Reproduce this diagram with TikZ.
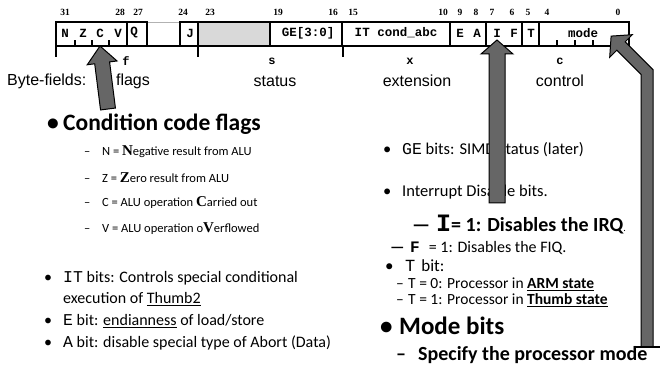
\documentclass[tikz,border=0pt]{standalone}
\usepackage{fontspec}
\setmainfont{Carlito}
\newfontfamily\arialfont{Liberation Sans}
\newfontfamily\courfont{Liberation Mono}
\newfontfamily\timesfont{Liberation Serif}
\usetikzlibrary{calc}

\definecolor{arrowgray}{RGB}{102,102,102}
\definecolor{regshade}{RGB}{217,217,217}

\tikzset{
  regbox/.style={draw, line width=1.6pt},
  bitnum/.style={font=\timesfont\bfseries\fontsize{9.5}{10}\selectfont, inner sep=0pt},
  regtxt/.style={font=\courfont\bfseries\fontsize{12.5}{13}\selectfont, inner sep=0pt},
  fieldtxt/.style={font=\courfont\bfseries\fontsize{12}{13}\selectfont, inner sep=0pt},
  bytetxt/.style={font=\arialfont\fontsize{16}{18}\selectfont, inner sep=0pt},
  item/.style={anchor=west, inner sep=0pt},
  blockarrow/.style={draw=black, line width=1pt, fill=arrowgray, line join=miter},
}
\newcommand{\hl}[1]{{\timesfont\bfseries\fontsize{15}{15}\selectfont #1}}

\begin{document}
\begin{tikzpicture}[x=1pt,y=-1pt]
  \useasboundingbox (0,0) rectangle (663,371);
  %register
  \fill[regshade] (198,22) rectangle (270,46);
  \draw[gray!60, line width=0.6pt] (147,22) -- (180,22);
  \foreach \l/\r in {56/127,127/147,180/198,198/270,270/342,342/450,450/486,486/522,522/539,539/629}
    \draw[regbox] (\l,22) rectangle (\r,46);
  \draw[regbox] (56,46) -- (629,46);
  \foreach \x in {56,198,343}
    \draw[regbox] (\x,45) -- (\x,57);
  \foreach \x in {75,92,109,557,575,593}
    \draw[line width=1.6pt] (\x,46) -- (\x,40);
  %bit numbers
  \foreach \x/\n in {65/31,120/28,138/27,183/24,210/23,278/19,333/16,353/15,443/10,460/9,476/8,492/7,512/6,528/5,547/4,618/0}
    \node[bitnum] (bit\n) at (\x,12) {\n};
  %bits
  \node[regtxt] (N) at (65,33) {N};
  \node[regtxt] (Z) at (83,33) {Z};
  \node[regtxt] (C) at (100,33) {C};
  \node[regtxt] (V) at (118,33) {V};
  \node[regtxt] (Q) at (134,33) {Q};
  \node[regtxt] (J) at (190,33) {J};
  \node[regtxt] (GE) at (308,33) {GE[3:0]};
  \node[regtxt] (IT) at (396,33) {IT cond\_abc};
  \node[regtxt] (E) at (460,33) {E};
  \node[regtxt] (A) at (477,33) {A};
  \node[regtxt] (I) at (497,33) {I};
  \node[regtxt] (F) at (514,33) {F};
  \node[regtxt] (T) at (531,33) {T};
  \node[regtxt] (mode) at (583,33) {mode};
  %fields
  \node[fieldtxt] (f) at (126,61) {f};
  \node[fieldtxt] (s) at (272,61) {s};
  \node[fieldtxt] (x) at (410,61) {x};
  \node[fieldtxt] (c) at (560,61) {c};
  \node[bytetxt, anchor=west] (bytefields) at (7,81) {Byte-fields:};
  \node[bytetxt] (flagsname) at (133,81) {flags};
  \node[bytetxt] (statusname) at (275,81) {status};
  \node[bytetxt] (extname) at (417,81) {extension};
  \node[bytetxt] (ctrlname) at (560,81) {control};
  %left column
  \node[item, font=\bfseries\fontsize{23.5}{26}\selectfont] (ccf) at (47,124) {\makebox[16pt][l]{•}Condition code flags};
  \node[item, font=\fontsize{12.5}{14}\selectfont] (nflag) at (84,152) {\makebox[18pt][l]{–}N = \hl{N}egative result from ALU};
  \node[item, font=\fontsize{12.5}{14}\selectfont] (zflag) at (84,178) {\makebox[18pt][l]{–}Z = \hl{Z}ero result from ALU};
  \node[item, font=\fontsize{12.5}{14}\selectfont] (cflag) at (84,203) {\makebox[18pt][l]{–}C = ALU operation \hl{C}arried out};
  \node[item, font=\fontsize{12.5}{14}\selectfont] (vflag) at (84,229) {\makebox[18pt][l]{–}V = ALU operation o\hl{V}erflowed};
  \node[item, font=\fontsize{16}{18}\selectfont] (itbits) at (44,278) {\makebox[19pt][l]{•}{\courfont\fontsize{16.5}{18}\selectfont IT} bits: Controls special conditional};
  \node[item, font=\fontsize{16}{18}\selectfont] (itbits2) at (63,299) {execution of \underline{Thumb2}};
  \node[item, font=\fontsize{16}{18}\selectfont] (ebit) at (44,321) {\makebox[19pt][l]{•}{\courfont\fontsize{16.5}{18}\selectfont E} bit: \underline{endianness} of load/store};
  \node[item, font=\fontsize{16}{18}\selectfont] (abit) at (44,343) {\makebox[19pt][l]{•}{\courfont\fontsize{16.5}{18}\selectfont A} bit: disable special type of Abort (Data)};
  %right column
  \node[item, font=\fontsize{16.5}{18}\selectfont] (gebits) at (383,150) {\makebox[19pt][l]{•}{\courfont\fontsize{16.5}{18}\selectfont GE} bits: SIMD status (later)};
  \node[item, font=\fontsize{16.5}{18}\selectfont] (intbits) at (383,192) {\makebox[19pt][l]{•}Interrupt Disable bits.};
  \node[item, font=\bfseries\fontsize{20}{22}\selectfont] (irq) at (412,225) {\makebox[24pt][l]{—}{\courfont\bfseries\fontsize{25}{25}\selectfont I}= 1: Disables the IRQ{\mdseries\fontsize{10}{10}\selectfont .}};
  \node[item, font=\fontsize{16}{17}\selectfont] (fiq) at (390,248) {\makebox[20pt][l]{\bfseries\fontsize{16}{16}\selectfont —}{\courfont\bfseries\fontsize{16}{16}\selectfont F}\hspace{9pt}= 1: Disables the FIQ.};
  \node[item, font=\fontsize{17}{19}\selectfont] (tbit) at (385,266) {\makebox[20pt][l]{•}{\courfont\fontsize{17}{19}\selectfont T}\hspace{6pt}bit:};
  \node[item, font=\fontsize{15.5}{16}\selectfont] (tzero) at (396,284) {\makebox[12pt][l]{–}T = 0: Processor in \underline{\textbf{ARM state}}};
  \node[item, font=\fontsize{15.5}{16}\selectfont] (tone) at (396,300) {\makebox[12pt][l]{–}T = 1: Processor in \underline{\textbf{Thumb state}}};
  \node[item, font=\bfseries\fontsize{25}{28}\selectfont] (modebits) at (380,326) {\makebox[19pt][l]{•}Mode bits};
  \node[item, font=\bfseries\fontsize{20}{22}\selectfont] (specify) at (396,355) {\makebox[22pt][l]{–}Specify the processor mode};
  %block arrows
  \coordinate (ftip) at (100,46);
  \coordinate (ftail) at (108,109);
  \coordinate (fbase) at ($(ftip)!17pt!(ftail)$);
  \filldraw[blockarrow] ($(ftail)!7.5pt!90:(ftip)$) -- ($(fbase)!7.5pt!90:(ftip)$) -- ($(fbase)!15pt!90:(ftip)$)
    -- (ftip) -- ($(fbase)!15pt!-90:(ftip)$) -- ($(fbase)!7.5pt!-90:(ftip)$) -- ($(ftail)!7.5pt!-90:(ftip)$) -- cycle;
  \coordinate (itip) at (497,40);
  \coordinate (itail) at (497,203);
  \coordinate (ibase) at ($(itip)!14pt!(itail)$);
  \filldraw[blockarrow] ($(itail)!8pt!90:(itip)$) -- ($(ibase)!8pt!90:(itip)$) -- ($(ibase)!16pt!90:(itip)$)
    -- (itip) -- ($(ibase)!16pt!-90:(itip)$) -- ($(ibase)!8pt!-90:(itip)$) -- ($(itail)!8pt!-90:(itip)$) -- cycle;
  \filldraw[blockarrow] (641,347) -- (641,74.4) -- (616.8,50.2) -- (609.7,57.3) -- (611.1,36.1)
    -- (632.3,34.7) -- (625.2,41.8) -- (653,69.6) -- (653,347) -- cycle;
  \draw[line width=1.6pt] (635,347) -- (660,347);
\end{tikzpicture}
\end{document}
